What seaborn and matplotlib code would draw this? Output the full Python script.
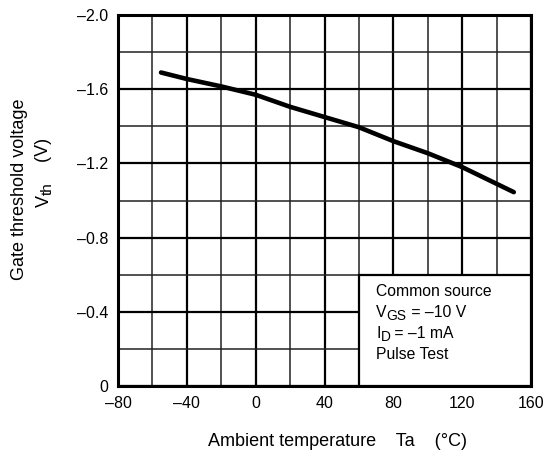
import matplotlib
matplotlib.use("Agg")
import matplotlib.pyplot as plt
import seaborn as sns
import pandas as pd
from matplotlib.ticker import MultipleLocator, FuncFormatter
from matplotlib.patches import Rectangle
from matplotlib.transforms import offset_copy

# curva Vth x Ta
temp_c = [-55, -40, -20, 0, 20, 40, 60, 80, 100, 120, 150]
vth_v = [-1.69, -1.655, -1.615, -1.57, -1.505, -1.45, -1.395, -1.32, -1.255, -1.18, -1.045]

x_ticks = [-80, -40, 0, 40, 80, 120, 160]
y_ticks = [0, -0.4, -0.8, -1.2, -1.6, -2.0]

# linhas da caixa: (texto, subscrito, resto)
legend_lines = [("Common source", "", ""), ("V", "GS", " = –10 V"), ("I", "D", " = –1 mA"), ("Pulse Test", "", "")]

sns.set_style("white")
plt.rcParams["font.family"] = ["Liberation Sans", "DejaVu Sans"]
plt.rcParams["text.color"] = "black"
plt.rcParams["axes.labelcolor"] = "black"

df = pd.DataFrame({"Ta": temp_c, "Vth": vth_v})

fig = plt.figure(figsize=(5.53, 4.59), dpi=100)
ax = fig.add_axes([118 / 553, 1 - 386 / 459, 413 / 553, 371 / 459])

sns.lineplot(data=df, x="Ta", y="Vth", ax=ax, color="black", linewidth=3.3, zorder=5)

ax.set_xlim(-80, 160)
ax.set_ylim(0, -2.0)
ax.set_xticks(x_ticks)
ax.set_yticks(y_ticks)
ax.xaxis.set_minor_locator(MultipleLocator(20))
ax.yaxis.set_minor_locator(MultipleLocator(0.2))

def fmt_x(v, pos):
    s = f"{abs(v):g}"
    return ("–" + s) if v < 0 else s

def fmt_y(v, pos):
    if v == 0:
        return "0"
    return ("–" if v < 0 else "") + f"{abs(v):.1f}"

ax.xaxis.set_major_formatter(FuncFormatter(fmt_x))
ax.yaxis.set_major_formatter(FuncFormatter(fmt_y))
ax.tick_params(axis="both", which="both", length=0, labelsize=11.5, colors="black", labelcolor="black")
ax.tick_params(axis="x", pad=7)
ax.tick_params(axis="y", pad=7)

ax.grid(which="major", color="black", linewidth=1.6)
ax.grid(which="minor", color="#222222", linewidth=1.1)
ax.set_axisbelow(True)
for sp in ax.spines.values():
    sp.set_color("black")
    sp.set_linewidth(2.2)
    sp.set_visible(True)

# caixa de condicoes
box = Rectangle((60, 0), 100, -0.6, facecolor="white", edgecolor="black", linewidth=1.6, zorder=6)
ax.add_patch(box)

renderer = fig.canvas.get_renderer()
fs = 11.3
y_txt = -0.507
for main, sub, rest in legend_lines:
    t = ax.text(70, y_txt, main, fontsize=fs, ha="left", va="center", zorder=7)
    if sub:
        w = t.get_window_extent(renderer).width * 72 / fig.dpi
        tr = offset_copy(t.get_transform(), fig=fig, x=w, y=-2.5, units="points")
        t2 = ax.text(70, y_txt, sub, fontsize=fs * 0.88, ha="left", va="center", transform=tr, zorder=7)
        w2 = t2.get_window_extent(renderer).width * 72 / fig.dpi
        tr2 = offset_copy(t.get_transform(), fig=fig, x=w + w2, y=0, units="points")
        ax.text(70, y_txt, rest, fontsize=fs, ha="left", va="center", transform=tr2, zorder=7)
    y_txt += 0.113

ax.set_xlabel("")
ax.set_ylabel("")
fig.text(337 / 553, 1 - 441 / 459, "Ambient temperature    Ta    (°C)", fontsize=13, ha="center", va="center")
fig.text(20 / 553, 1 - 189 / 459, "Gate threshold voltage", fontsize=13, rotation=90, ha="center", va="center")

# Vth (V) rotacionado com subscrito
vt = fig.text(44 / 553, 1 - 207 / 459, "V", fontsize=13, rotation=90, ha="center", va="bottom")
vw = vt.get_window_extent(renderer).height * 72 / fig.dpi
trv = offset_copy(vt.get_transform(), fig=fig, x=3, y=vw, units="points")
st = fig.text(44 / 553, 1 - 207 / 459, "th", fontsize=11, rotation=90, ha="center", va="bottom", transform=trv)
sw = st.get_window_extent(renderer).height * 72 / fig.dpi
trv2 = offset_copy(vt.get_transform(), fig=fig, x=0, y=vw + sw, units="points")
fig.text(44 / 553, 1 - 207 / 459, "    (V)", fontsize=13, rotation=90, ha="center", va="bottom", transform=trv2)

fig.savefig("out.png", dpi=100)
